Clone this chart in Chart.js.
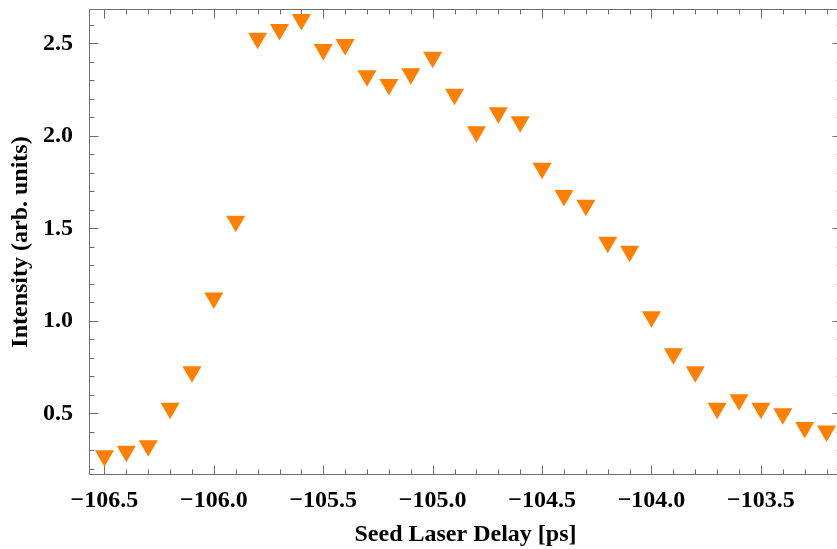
<!DOCTYPE html>
<html>
<head>
<meta charset="utf-8">
<script src="https://cdn.jsdelivr.net/npm/chart.js@4/dist/chart.umd.min.js"></script>
<style>
html,body{margin:0;padding:0;background:#fff;overflow:hidden;}
canvas{display:block;}
</style>
</head>
<body>
<canvas id="c" width="841" height="549"></canvas>
<script>
// ---- data ----
const delays = [-106.5,-106.4,-106.3,-106.2,-106.1,-106.0,-105.9,-105.8,-105.7,-105.6,-105.5,-105.4,-105.3,-105.2,-105.1,-105.0,-104.9,-104.8,-104.7,-104.6,-104.5,-104.4,-104.3,-104.2,-104.1,-104.0,-103.9,-103.8,-103.7,-103.6,-103.5,-103.4,-103.3,-103.2];
const intensity = [0.270,0.295,0.325,0.527,0.725,1.123,1.538,2.527,2.574,2.628,2.466,2.493,2.325,2.277,2.335,2.424,2.224,2.022,2.124,2.076,1.824,1.677,1.624,1.424,1.376,1.022,0.822,0.725,0.527,0.574,0.527,0.497,0.423,0.405];
const xTickValues = [-106.5,-106.0,-105.5,-105.0,-104.5,-104.0,-103.5];
const yTickValues = [0.5,1.0,1.5,2.0,2.5];
const xTitle = 'Seed Laser Delay [ps]';
const yTitle = 'Intensity (arb. units)';

const points = delays.map((d,i)=>({x:d,y:intensity[i]}));
const FONT = "'Liberation Serif','Times New Roman',serif";
const FRAME = '#6f6f6f';

const frameTicks = {
  id:'frameTicks',
  beforeDatasetsDraw(chart){
    const {ctx, chartArea:a, scales:{x,y}} = chart;
    ctx.save();
    ctx.strokeStyle = FRAME;
    ctx.lineWidth = 1;
    ctx.beginPath();
    ctx.rect(Math.round(a.left)-0.5, Math.round(a.top)-0.5, Math.round(a.right-a.left)+1, Math.round(a.bottom-a.top)+1);
    ctx.stroke();
    const major = 8.5, minor = 4.5;
    ctx.beginPath();
    for(let k=Math.ceil(x.min*10-1e-6); k<=Math.floor(x.max*10+1e-6); k++){
      const v = k/10;
      const isMaj = Math.abs(k%5)===0;
      const px = Math.round(x.getPixelForValue(v))+0.5;
      const L = isMaj?major:minor;
      ctx.moveTo(px,a.bottom); ctx.lineTo(px,a.bottom-L);
      ctx.moveTo(px,a.top); ctx.lineTo(px,a.top+L);
    }
    for(let k=Math.ceil(y.min*10-1e-6); k<=Math.floor(y.max*10+1e-6); k++){
      const v = k/10;
      const isMaj = Math.abs(k%5)===0;
      const py = Math.round(y.getPixelForValue(v))+0.5;
      const L = isMaj?major:minor;
      ctx.moveTo(a.left,py); ctx.lineTo(a.left+L,py);
      ctx.moveTo(a.right,py); ctx.lineTo(a.right-L,py);
    }
    ctx.stroke();
    ctx.restore();
  }
};

new Chart(document.getElementById('c'),{
  type:'scatter',
  data:{datasets:[{
    data:points,
    pointStyle:'triangle',
    rotation:180,
    pointRadius:11,
    pointHoverRadius:11,
    backgroundColor:'#ff8000',
    borderColor:'#ff8000',
    borderWidth:0
  }]},
  options:{
    responsive:false,
    animation:false,
    events:[],
    layout:{autoPadding:false, padding:{top:10,right:0,left:0,bottom:0}},
    plugins:{legend:{display:false},tooltip:{enabled:false}},
    scales:{
      x:{
        type:'linear',
        min:-106.566, max:-103.134,
        afterBuildTicks(s){ s.ticks = xTickValues.map(v=>({value:v})); },
        afterFit(s){ s.height = 75; s.paddingLeft = 0; s.paddingRight = 0; },
        grid:{display:false},
        border:{display:false},
        ticks:{
          color:'#000', padding:4, maxRotation:0, autoSkip:false,
          font:{family:FONT, size:24, weight:'bold'},
          callback:(v)=> (v<0?'\u2212':'') + Math.abs(v).toFixed(1)
        },
        title:{display:true, text:xTitle, color:'#000', padding:{top:4,bottom:0},
          font:{family:FONT, size:24, weight:'bold'}}
      },
      y:{
        type:'linear',
        min:0.172, max:2.68,
        afterBuildTicks(s){ s.ticks = yTickValues.map(v=>({value:v})); },
        afterFit(s){ s.width = 90; s.paddingTop = 0; s.paddingBottom = 0; },
        grid:{display:false},
        border:{display:false},
        ticks:{
          color:'#000', padding:9, autoSkip:false,
          font:{family:FONT, size:24, weight:'bold'},
          callback:(v)=> Number(v).toFixed(1)
        },
        title:{display:true, text:yTitle, color:'#000', padding:{top:6,bottom:0},
          font:{family:FONT, size:24, weight:'bold'}}
      }
    }
  },
  plugins:[frameTicks]
});
</script>
</body>
</html>
